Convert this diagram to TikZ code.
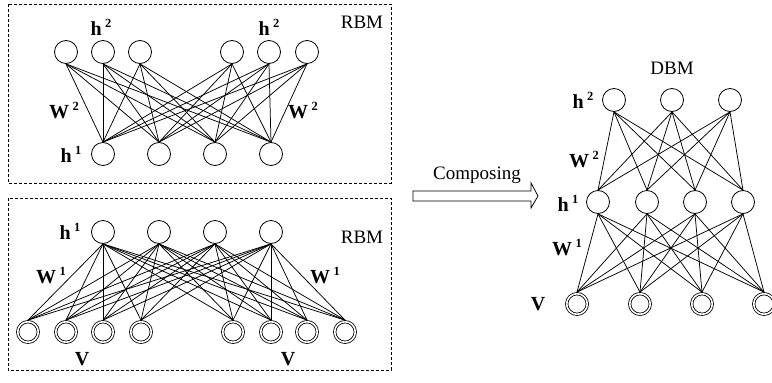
\documentclass[tikz,border=0pt]{standalone}
\usepackage{fontspec}
\setmainfont{Liberation Serif}
\newcommand\hsup[2]{#1\,\raisebox{0.40em}{\fontsize{12.5}{12.5}\selectfont #2}}
\begin{document}
\begin{tikzpicture}[x=1pt,y=-1pt,
  unit/.style={circle, draw, line width=0.8pt, minimum size=23pt, inner sep=0pt},
  vis/.style={circle, draw, double, double distance=1.6pt, line width=0.8pt, minimum size=20.6pt, inner sep=0pt, outer sep=1.6pt},
  wire/.style={line width=0.75pt},
  lab/.style={font=\fontsize{20}{22}\selectfont\bfseries, inner sep=0pt},
  title/.style={font=\fontsize{19}{22}\selectfont, inner sep=0pt},
  framebox/.style={draw, line width=0.8pt, dash pattern=on 3pt off 2pt}]
\useasboundingbox (0,0) rectangle (772,383);

% ---------- top RBM ----------
\draw[framebox] (8,4) rectangle (391,183);
\foreach \x [count=\i] in {66,103,140,232,269,307} \node[unit] (t\i) at (\x,52) {};
\foreach \x [count=\i] in {103,159,215,271} \node[unit] (u\i) at (\x,154) {};
\foreach \i in {1,...,6} \foreach \j in {1,...,4} \draw[wire] (t\i.south) -- (u\j.north);
\node[lab] (th2a) at (101,27) {\hsup{h}{2}};
\node[lab] (th2b) at (269,27) {\hsup{h}{2}};
\node[lab] (tw2a) at (64,111) {\hsup{W}{2}};
\node[lab] (tw2b) at (303,111) {\hsup{W}{2}};
\node[lab] (th1) at (71,154) {\hsup{h}{1}};
\node[title] (trbm) at (362,22) {RBM};

% ---------- bottom RBM ----------
\draw[framebox] (8,198) rectangle (391,370);
\foreach \x [count=\i] in {103,159,215,271} \node[unit] (b\i) at (\x,232) {};
\foreach \x [count=\i] in {28,66,103,141,233,271,307,345} \node[vis] (v\i) at (\x,332) {};
\foreach \i in {1,...,4} \foreach \j in {1,...,8} \draw[wire] (b\i.south) -- (v\j.north);
\node[lab] (bh1) at (70,231) {\hsup{h}{1}};
\node[lab] (bw1a) at (51,276) {\hsup{W}{1}};
\node[lab] (bw1b) at (325,276) {\hsup{W}{1}};
\node[lab] (bva) at (82,359) {V};
\node[lab] (bvb) at (288,359) {V};
\node[title] (brbm) at (362,237) {RBM};

% ---------- composing arrow ----------
\node[title] (comp) at (477,175) {Composing};
\draw[line width=0.8pt] (413,191) -- (531,191) -- (531,183) -- (538,196) -- (531,208) -- (531,201) -- (413,201) -- cycle;

% ---------- DBM ----------
\foreach \x [count=\i] in {614,672,730} \node[unit] (d\i) at (\x,100) {};
\foreach \x [count=\i] in {598,647,695,743} \node[unit] (e\i) at (\x,202) {};
\foreach \x [count=\i] in {577,640,702,764} \node[vis] (f\i) at (\x,304) {};
\foreach \i in {1,...,3} \foreach \j in {1,...,4} \draw[wire] (d\i.south) -- (e\j.north);
\foreach \i in {1,...,4} \foreach \j in {1,...,4} \draw[wire] (e\i.south) -- (f\j.north);
\node[title] (dbm) at (672,68) {DBM};
\node[lab] (dh2) at (583,100) {\hsup{h}{2}};
\node[lab] (dw2) at (584,160) {\hsup{W}{2}};
\node[lab] (dh1) at (568,203) {\hsup{h}{1}};
\node[lab] (dw1) at (567,248) {\hsup{W}{1}};
\node[lab] (dv) at (538,304) {V};
\end{tikzpicture}
\end{document}
